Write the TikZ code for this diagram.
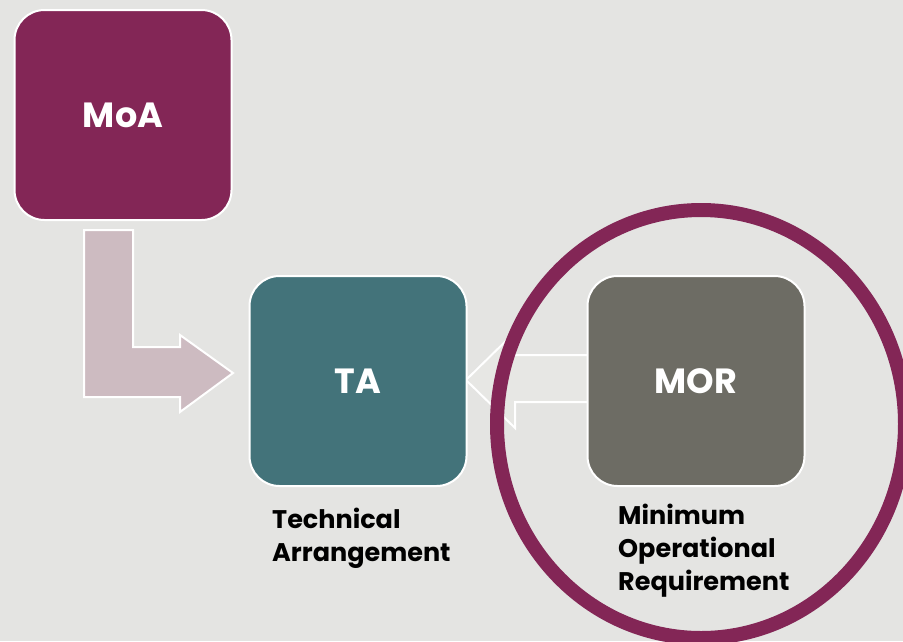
\documentclass[tikz,border=0pt]{standalone}
\usepackage{fontspec}
\setmainfont{Poppins}
\usetikzlibrary{positioning}
\definecolor{bgcol}{HTML}{E4E4E2}
\definecolor{moacol}{HTML}{832656}
\definecolor{tacol}{HTML}{43737A}
\definecolor{morcol}{HTML}{6D6C64}
\definecolor{bentcol}{HTML}{CDBBC1}
\definecolor{backcol}{HTML}{E7E7E4}
\begin{document}
\begin{tikzpicture}[
  x=1pt,
  y=-1pt,
  mybox/.style={
    rectangle,
    rounded corners=30pt,
    draw=white,
    line width=2pt,
    minimum width=217pt,
    minimum height=210pt,
    text=white,
    font=\bfseries\fontsize{35}{40}\selectfont
  },
  mylabel/.style={
    align=left,
    anchor=north west,
    inner sep=0pt,
    font=\bfseries\fontsize{25.5}{33}\selectfont
  }
]
\fill[bgcol] (0,0) rectangle (903,641);
\useasboundingbox (0,0) rectangle (903,641);
% block arrows
\filldraw[fill=bentcol, draw=white, line width=2pt] (84,230) -- (133,230) -- (133,347) -- (180,347) -- (180,335) -- (233,373) -- (180,412) -- (180,397) -- (84,397) -- cycle;
\filldraw[fill=backcol, draw=white, line width=2pt] (590,355) -- (515,355) -- (515,332) -- (466,380) -- (515,428) -- (515,402) -- (590,402) -- cycle;
% boxes
\node[mybox, fill=moacol] (moa) at (123,115) {MoA};
\node[mybox, fill=tacol] (ta) at (358,381) {TA};
\node[mybox, fill=morcol] (mor) at (696,381) {MOR};
% ring
\draw[moacol, line width=14pt] (701,424) ellipse (204 and 214);
% labels
\node[mylabel] (talbl) at (272,508) {Technical\\Arrangement};
\node[mylabel] (morlbl) at (618,504) {Minimum\\Operational\\Requirement};
\end{tikzpicture}
\end{document}
